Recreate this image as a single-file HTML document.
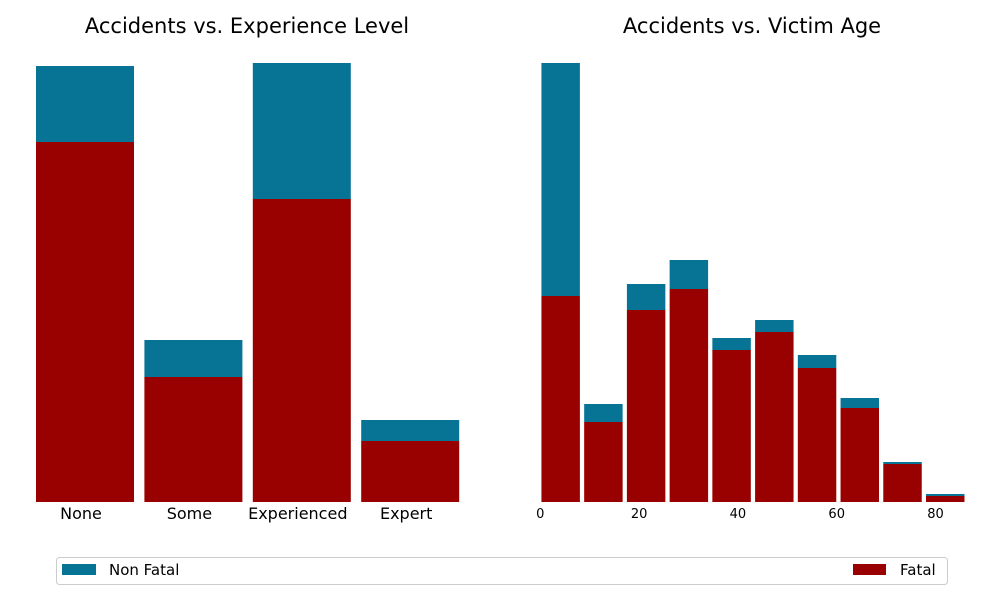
<!DOCTYPE html>
<html><head><meta charset="utf-8"><style>
body{margin:0;background:#fff;font-family:"DejaVu Sans","Liberation Sans",sans-serif}
</style></head><body>
<svg id="c" width="1000" height="600" xmlns="http://www.w3.org/2000/svg">
<text x="247" y="33" font-size="21" text-anchor="middle" fill="#000">Accidents vs. Experience Level</text>
<text x="752" y="33" font-size="21" text-anchor="middle" fill="#000">Accidents vs. Victim Age</text>
<g id="left"></g><g id="right"></g>
<g>
<rect x="56.5" y="557.5" width="891" height="27" rx="3" fill="#fff" stroke="#ccc"/>
<rect x="62" y="564" width="34" height="11" fill="#077495"/>
<text x="109" y="575" font-size="15">Non Fatal</text>
<rect x="853" y="564" width="33" height="11" fill="#990000"/>
<text x="900" y="575" font-size="15">Fatal</text>
</g>
</svg>
<script>
const expCategories=["None","Some","Experienced","Expert"];
const expFatal=[360,125,303,61];
const expNonFatal=[76,37,136,21];
const ageBinStarts=[0,8.65,17.3,25.95,34.6,43.25,51.9,60.55,69.2,77.85];
const ageFatal=[206,80,192,213,152,170,134,94,38,6];
const ageNonFatal=[233,18,26,29,12,12,13,10,2,2];
const ageTicks=[0,20,40,60,80];
const binWidth=8.65;
const NS="http://www.w3.org/2000/svg";
const base=502, yPx=1.0;
const yS=v=>v*yPx;
function rect(g,x,y,w,h,fill,name){const r=document.createElementNS(NS,"rect");r.setAttribute("x",x);r.setAttribute("y",y);r.setAttribute("width",w);r.setAttribute("height",h);r.setAttribute("fill",fill);


g.appendChild(r);}
function text(g,x,y,s,size,name){const t=document.createElementNS(NS,"text");t.setAttribute("x",x);t.setAttribute("y",y);t.setAttribute("font-size",size);t.setAttribute("text-anchor","middle");t.textContent=s;


g.appendChild(t);}
const L=document.getElementById("left");
const xL=i=>36+i*108.4;
expCategories.forEach((c,i)=>{
 const f=yS(expFatal[i]),n=yS(expNonFatal[i]);
 rect(L,xL(i),base-f,98,f,"#990000","bar-fatal-"+c.toLowerCase());
 rect(L,xL(i),base-f-n,98,n,"#077495","bar-nonfatal-"+c.toLowerCase());
 text(L,xL(i)+45,519,c,16,"x-label-"+c.toLowerCase());
});
const R=document.getElementById("right");
const xR=v=>540.3+v*4.94;
ageBinStarts.forEach((s,i)=>{
 const x0=xR(s+binWidth*0.05)-1,w=binWidth*0.9*4.94;
 const f=yS(ageFatal[i]),n=yS(ageNonFatal[i]);
 rect(R,x0,base-f,w,f,"#990000","age-bar-fatal-"+i);
 rect(R,x0,base-f-n,w,n,"#077495","age-bar-nonfatal-"+i);
});
ageTicks.forEach(t=>text(R,xR(t),518,String(t),13,"x-tick-"+t));
</script>
</body></html>
